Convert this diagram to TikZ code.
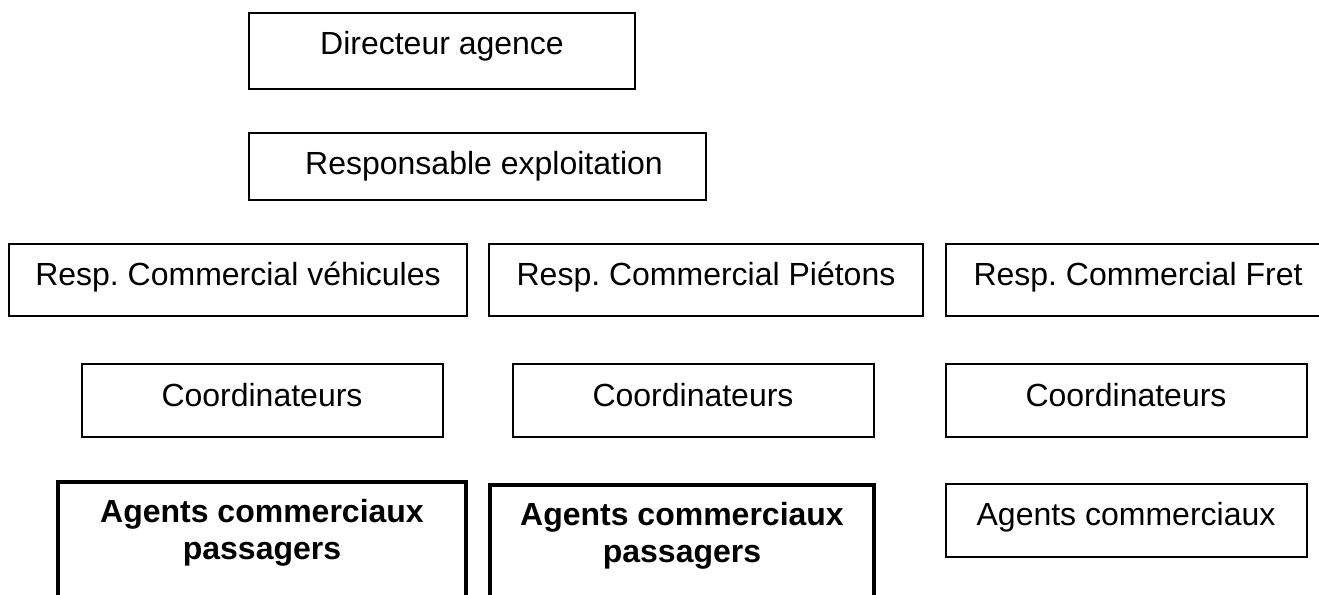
\documentclass[tikz,border=0pt]{standalone}
\usepackage{fontspec}
\setmainfont{Liberation Sans}
\frenchspacing
\begin{document}
\begin{tikzpicture}[x=1bp,y=-1bp,
  thinbox/.style={draw=black,line width=1.4bp,fill=none},
  thickbox/.style={draw=black,line width=3.2bp,fill=none},
  lbl/.style={anchor=base,inner sep=0pt,font=\fontsize{32bp}{37bp}\selectfont},
  blbl/.style={anchor=base,inner sep=0pt,font=\fontsize{32bp}{37bp}\selectfont\bfseries}]
\useasboundingbox (0,0) rectangle (1319,595);
\clip (0,0) rectangle (1319,595);
% Row 1
\draw[thinbox] (249,13) rectangle (635,89);
\node[lbl] (dir) at (442,55) {Directeur agence};
% Row 2
\draw[thinbox] (249,133) rectangle (706,200);
\node[lbl] (rexp) at (484,175) {Responsable exploitation};
% Row 3
\draw[thinbox] (9,244) rectangle (467,316);
\node[lbl] (rveh) at (238,285) {Resp. Commercial véhicules};
\draw[thinbox] (489,244) rectangle (923,316);
\node[lbl] (rpie) at (706,285) {Resp. Commercial Piétons};
\draw[thinbox] (946,244) rectangle (1332,316);
\node[lbl] (rfret) at (1138,285) {Resp. Commercial Fret};
% Row 4
\draw[thinbox] (82,364) rectangle (443,437);
\node[lbl] (cveh) at (262,406) {Coordinateurs};
\draw[thinbox] (513,364) rectangle (874,437);
\node[lbl] (cpie) at (693,406) {Coordinateurs};
\draw[thinbox] (946,364) rectangle (1307,437);
\node[lbl] (cfret) at (1126,406) {Coordinateurs};
% Row 5
\draw[thickbox] (58,482) rectangle (466,640);
\node[blbl] (aveh1) at (262,522) {Agents commerciaux};
\node[blbl] (aveh2) at (262,559) {passagers};
\draw[thickbox] (490,485) rectangle (874,640);
\node[blbl] (apie1) at (682,525) {Agents commerciaux};
\node[blbl] (apie2) at (682,562) {passagers};
\draw[thinbox] (946,484) rectangle (1307,557);
\node[lbl] (afret) at (1126,525) {Agents commerciaux};
\end{tikzpicture}
\end{document}
